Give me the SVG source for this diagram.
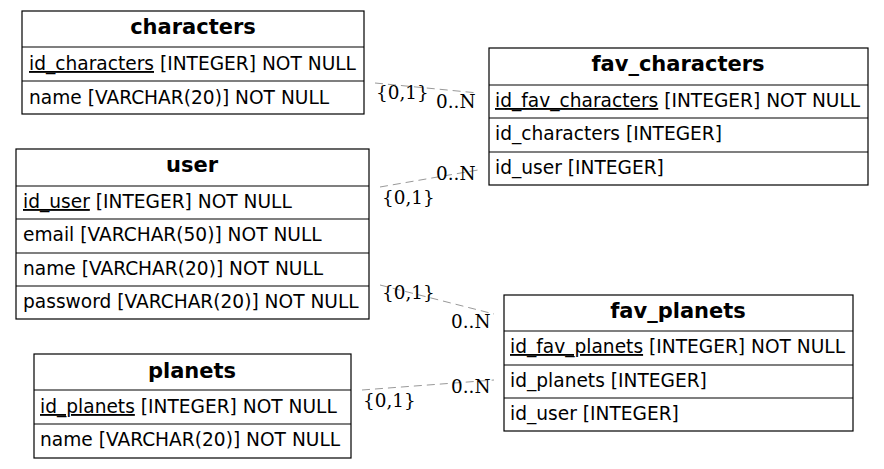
<svg xmlns="http://www.w3.org/2000/svg" width="884" height="469" viewBox="0 0 884 469">
<style>
.box{fill:#fff;stroke:#000;stroke-width:1.2}
.ln{stroke:#000;stroke-width:1.2}
.t{font-family:"DejaVu Sans",sans-serif;font-size:18.6px;fill:#000}
.h{font-family:"DejaVu Sans",sans-serif;font-size:21px;font-weight:bold;fill:#000;text-anchor:middle}
.u{text-decoration:underline;text-decoration-color:#777}
.edge{stroke:#999;stroke-width:1;stroke-dasharray:8,5;fill:none}
.lab{font-family:"DejaVu Serif",serif;font-size:18.4px;fill:#000}
</style>
<rect width="884" height="469" fill="#fff"/>
<g id="connectors">
<line class="edge" x1="375" y1="83" x2="478" y2="93"/>
<line class="edge" x1="380" y1="187" x2="478" y2="170"/>
<line class="edge" x1="380" y1="285" x2="494" y2="314"/>
<line class="edge" x1="362" y1="390" x2="494" y2="380"/>
<text class="lab" x="376" y="99">{0,1}</text>
<text class="lab" x="436" y="108">0..N</text>
<text class="lab" x="436" y="180">0..N</text>
<text class="lab" x="382" y="204">{0,1}</text>
<text class="lab" x="382" y="299">{0,1}</text>
<text class="lab" x="451" y="328">0..N</text>
<text class="lab" x="451" y="393">0..N</text>
<text class="lab" x="363" y="407">{0,1}</text>
</g>
<g id="characters">
<rect class="box" x="22" y="11" width="342" height="103"/>
<line class="ln" x1="22" y1="47" x2="364" y2="47"/>
<line class="ln" x1="22" y1="81" x2="364" y2="81"/>
<text class="h" x="193" y="34">characters</text>
<text class="t" x="29" y="70"><tspan class="u">id_characters</tspan> [INTEGER] NOT NULL</text>
<text class="t" x="29" y="104">name [VARCHAR(20)] NOT NULL</text>
</g>
<g id="fav_characters">
<rect class="box" x="489" y="48" width="379" height="137"/>
<line class="ln" x1="489" y1="85" x2="868" y2="85"/>
<line class="ln" x1="489" y1="118" x2="868" y2="118"/>
<line class="ln" x1="489" y1="152" x2="868" y2="152"/>
<text class="h" x="678" y="71">fav_characters</text>
<text class="t" x="495" y="107"><tspan class="u">id_fav_characters</tspan> [INTEGER] NOT NULL</text>
<text class="t" x="495" y="140">id_characters [INTEGER]</text>
<text class="t" x="495" y="174">id_user [INTEGER]</text>
</g>
<g id="user">
<rect class="box" x="16" y="149" width="353" height="170"/>
<line class="ln" x1="16" y1="186" x2="369" y2="186"/>
<line class="ln" x1="16" y1="219" x2="369" y2="219"/>
<line class="ln" x1="16" y1="253" x2="369" y2="253"/>
<line class="ln" x1="16" y1="286" x2="369" y2="286"/>
<text class="h" x="192" y="172">user</text>
<text class="t" x="23" y="208"><tspan class="u">id_user</tspan> [INTEGER] NOT NULL</text>
<text class="t" x="23" y="241">email [VARCHAR(50)] NOT NULL</text>
<text class="t" x="23" y="275">name [VARCHAR(20)] NOT NULL</text>
<text class="t" x="23" y="308">password [VARCHAR(20)] NOT NULL</text>
</g>
<g id="fav_planets">
<rect class="box" x="504" y="295" width="349" height="136"/>
<line class="ln" x1="504" y1="331" x2="853" y2="331"/>
<line class="ln" x1="504" y1="365" x2="853" y2="365"/>
<line class="ln" x1="504" y1="398" x2="853" y2="398"/>
<text class="h" x="678" y="318">fav_planets</text>
<text class="t" x="510" y="353"><tspan class="u">id_fav_planets</tspan> [INTEGER] NOT NULL</text>
<text class="t" x="510" y="387">id_planets [INTEGER]</text>
<text class="t" x="510" y="420">id_user [INTEGER]</text>
</g>
<g id="planets">
<rect class="box" x="34" y="354" width="317" height="104"/>
<line class="ln" x1="34" y1="390" x2="351" y2="390"/>
<line class="ln" x1="34" y1="424" x2="351" y2="424"/>
<text class="h" x="192" y="378">planets</text>
<text class="t" x="40" y="413"><tspan class="u">id_planets</tspan> [INTEGER] NOT NULL</text>
<text class="t" x="40" y="446">name [VARCHAR(20)] NOT NULL</text>
</g>
</svg>
